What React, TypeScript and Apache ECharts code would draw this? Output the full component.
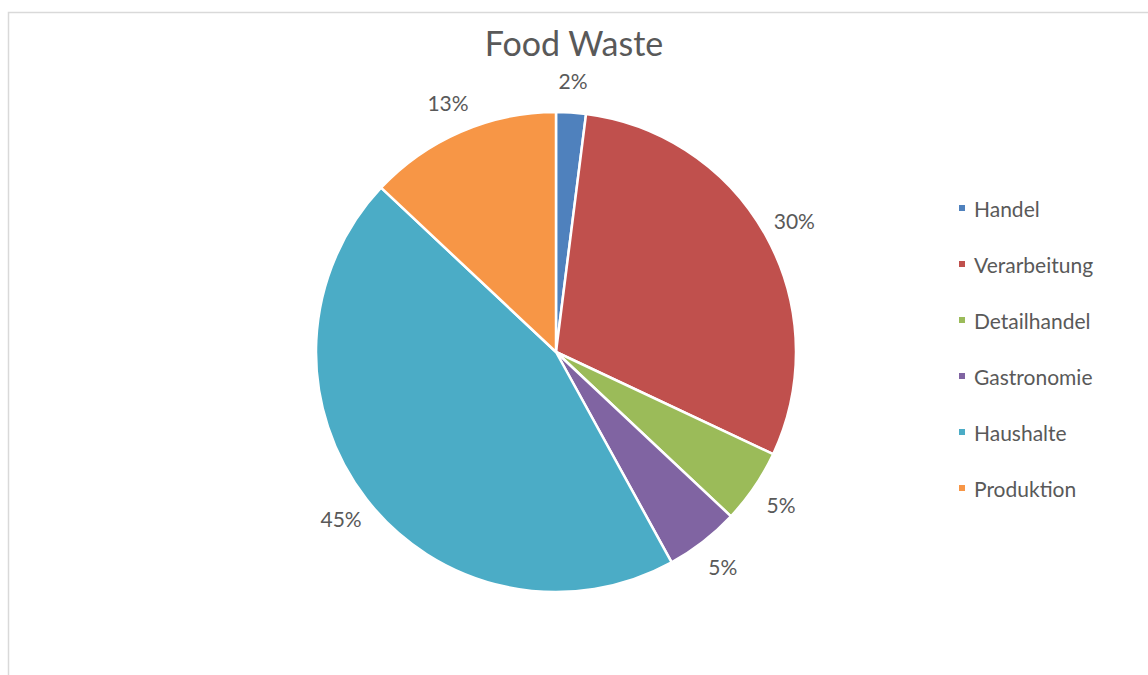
import React, { useEffect, useRef } from "react";
import * as echarts from "echarts";

const categories = ["Handel", "Verarbeitung", "Detailhandel", "Gastronomie", "Haushalte", "Produktion"];
const values = [2, 30, 5, 5, 45, 13];
const colors = ["#4f81bd", "#c0504d", "#9bbb59", "#8064a2", "#4bacc6", "#f79646"];
const title = "Food Waste";

export default function App() {
  const ref = useRef<HTMLDivElement>(null);
  useEffect(() => {
    if (!ref.current) return;
    const chart = echarts.init(ref.current, null, { renderer: "svg" });
    const data = categories.map((name, i) => ({ name, value: values[i], itemStyle: { color: colors[i] } }));
    const labelData = categories.map((name, i) => ({ name, value: values[i] }));
    chart.setOption({
      animation: false,
      backgroundColor: "#ffffff",
      title: {
        text: title,
        left: 569,
        textAlign: "center",
        top: 20,
        textStyle: { fontFamily: "Lato", fontSize: 34, fontWeight: "normal", color: "#595959" },
      },
      legend: {
        orient: "vertical",
        left: 957,
        top: 196,
        padding: 0,
        itemWidth: 8,
        itemHeight: 8,
        itemGap: 32,
        icon: "rect",
        data: categories,
        textStyle: { fontFamily: "Lato", fontSize: 21, color: "#595959", lineHeight: 24, padding: [0, 0, 0, 3] },
      },
      graphic: [
        {
          type: "rect",
          shape: { x: 8.5, y: 12.5, width: 1200, height: 700 },
          style: { fill: "none", stroke: "#d9d9d9", lineWidth: 1.5 },
          silent: true,
        },
      ],
      series: [
        {
          type: "pie",
          center: [556, 352],
          radius: [0, 240],
          startAngle: 90,
          clockwise: true,
          data,
          label: { show: false },
          labelLine: { show: false },
          itemStyle: { borderColor: "#ffffff", borderWidth: 2.5 },
          emphasis: { disabled: true },
        },
        {
          type: "pie",
          center: [556, 352],
          radius: [242, 296],
          startAngle: 90,
          clockwise: true,
          silent: true,
          data: labelData,
          itemStyle: { color: "rgba(0,0,0,0)", borderWidth: 0 },
          label: {
            show: true,
            position: "inside",
            formatter: (p: any) => `${p.value}%`,
            fontFamily: "Lato",
            fontSize: 21,
            color: "#595959",
          },
          labelLine: { show: false },
          emphasis: { disabled: true },
        },
      ],
    });
    return () => chart.dispose();
  }, []);
  return <div ref={ref} style={{ position: "absolute", left: 0, top: 0, width: 1148, height: 675 }} />;
}
